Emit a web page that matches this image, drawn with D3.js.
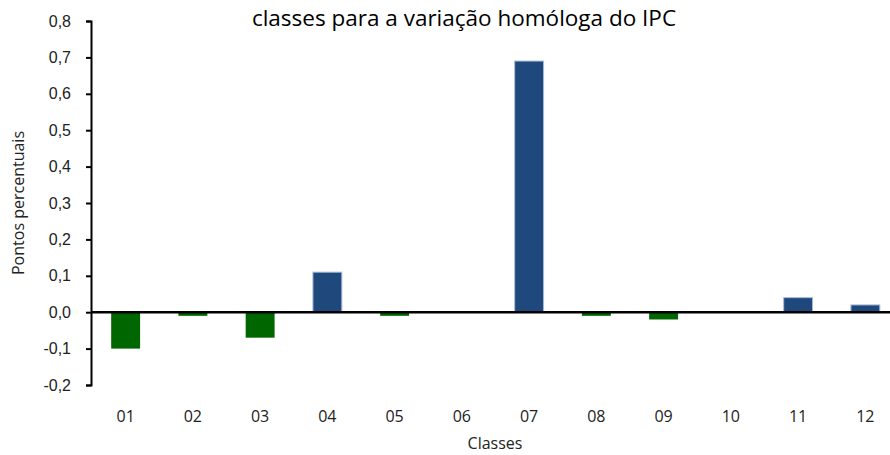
<!DOCTYPE html>
<html>
<head>
<meta charset="utf-8">
<script src="https://cdn.jsdelivr.net/npm/d3@7"></script>
<style>
  body { margin: 0; background: #fff; }
  svg { display: block; font-family: 'Open Sans', sans-serif; }
</style>
</head>
<body>
<div id="chart"></div>
<script>
const categories = ['01', '02', '03', '04', '05', '06', '07', '08', '09', '10', '11', '12'];
const values = [-0.10, -0.01, -0.07, 0.11, -0.01, 0, 0.69, -0.01, -0.02, 0, 0.04, 0.02];
const yTicks = [-0.2, -0.1, 0, 0.1, 0.2, 0.3, 0.4, 0.5, 0.6, 0.7, 0.8];

const w = 890, h = 455;
const m = { top: 21, right: -10, bottom: 70, left: 91 };

const svg = d3.select('#chart').append('svg')
    .attr('width', w)
    .attr('height', h);

const x = d3.scaleBand()
    .domain(categories)
    .range([m.left, w - m.right])
    .paddingInner(0.57)
    .paddingOuter(0.3);

const y = d3.scaleLinear()
    .domain([-0.2, 0.8])
    .range([h - m.bottom, m.top]);

// bars
svg.append('g').selectAll('rect')
    .data(values)
    .join('rect')
    .attr('x', (d, i) => x(categories[i]))
    .attr('y', d => y(Math.max(0, d)))
    .attr('width', x.bandwidth())
    .attr('height', d => Math.abs(y(d) - y(0)))
    .style('fill', d => d < 0 ? '#006600' : '#1F497D')
    .style('stroke', d => d < 0 ? 'none' : '#A9BCD6')
    .style('stroke-width', d => d < 0 ? 0 : 1);

// y axis
const yAxis = svg.append('g')
    .attr('transform', `translate(${m.left},0)`)
    .call(d3.axisLeft(y)
        .tickValues(yTicks)
        .tickSize(5)
        .tickSizeOuter(5)
        .tickPadding(15)
        .tickFormat(d => d3.format('.1f')(d).replace('.', ',').replace('−', '-')));
yAxis.select('.domain').style('stroke', '#000').style('stroke-width', 2);
yAxis.selectAll('.tick line').style('stroke', '#000').style('stroke-width', 2);
yAxis.selectAll('.tick text')
    .style('font-size', '16px')
    .style('fill', '#222');

// zero line
svg.append('line')
    .attr('x1', m.left)
    .attr('x2', w)
    .attr('y1', y(0))
    .attr('y2', y(0))
    .style('stroke', '#000')
    .style('stroke-width', 2.5);

// category labels
svg.append('g').selectAll('text')
    .data(categories)
    .join('text')
    .attr('x', d => x(d) + x.bandwidth() / 2)
    .attr('y', 422)
    .attr('text-anchor', 'middle')
    .style('font-size', '16px')
    .style('fill', '#222')
    .text(d => d);

// axis titles
svg.append('text')
    .attr('x', 495)
    .attr('y', 449)
    .attr('text-anchor', 'middle')
    .style('font-size', '16px')
    .style('fill', '#222')
    .text('Classes');

svg.append('text')
    .attr('transform', `translate(24,203) rotate(-90)`)
    .attr('text-anchor', 'middle')
    .style('font-size', '16px')
    .style('fill', '#222')
    .text('Pontos percentuais');

// title (first line lies above the visible area)
svg.append('text')
    .attr('x', 464)
    .attr('y', 26)
    .attr('text-anchor', 'middle')
    .style('font-size', '22.5px')
    .style('fill', '#000')
    .text('classes para a variação homóloga do IPC');
</script>
</body>
</html>
